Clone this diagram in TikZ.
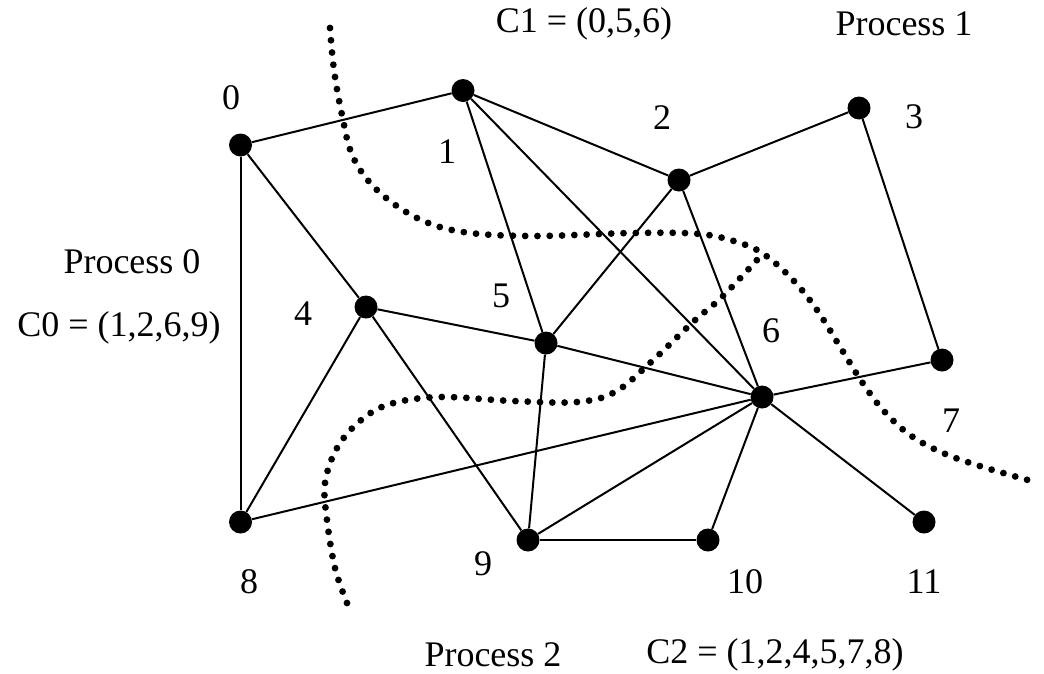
\documentclass[tikz,border=0pt]{standalone}
\usepackage{fontspec}
\setmainfont{Liberation Serif}
\begin{document}
\begin{tikzpicture}[x=1pt,y=-1pt,
  vtx/.style={circle,fill=black,draw=none,inner sep=0pt,minimum size=23pt},
  lbl/.style={inner sep=0pt,font=\fontsize{36}{40}\selectfont},
  edge/.style={line width=2pt},
  cut/.style={line width=6.8pt,line cap=round,dash pattern=on 0pt off 12.3pt}]
\useasboundingbox (0,0) rectangle (1044,673);
% vertices
\node[vtx] (v0) at (240.5,145) {};
\node[vtx] (v1) at (463,90.5) {};
\node[vtx] (v2) at (679,180) {};
\node[vtx] (v3) at (859,108) {};
\node[vtx] (v4) at (366,307) {};
\node[vtx] (v5) at (546,343) {};
\node[vtx] (v6) at (762,397) {};
\node[vtx] (v7) at (942,360) {};
\node[vtx] (v8) at (240.5,522) {};
\node[vtx] (v9) at (528,540) {};
\node[vtx] (v10) at (708,540) {};
\node[vtx] (v11) at (924,522) {};
% vertex labels
\node[lbl] (l0) at (231,98) {0};
\node[lbl] (l1) at (447,152) {1};
\node[lbl] (l2) at (662,118) {2};
\node[lbl] (l3) at (914,117) {3};
\node[lbl] (l4) at (303,314) {4};
\node[lbl] (l5) at (501,296) {5};
\node[lbl] (l6) at (771,331) {6};
\node[lbl] (l7) at (951,421) {7};
\node[lbl] (l8) at (249,582) {8};
\node[lbl] (l9) at (483,564) {9};
\node[lbl] (l10) at (745,582) {10};
\node[lbl] (l11) at (924,582) {11};
% texts
\node[lbl] (c1) at (584,24) {C1 = (0,5,6)};
\node[lbl] (p1) at (904,24) {Process 1};
\node[lbl] (p0) at (132,262) {Process 0};
\node[lbl] (c0) at (119,328) {C0 = (1,2,6,9)};
\node[lbl] (p2) at (493,655) {Process 2};
\node[lbl] (c2) at (775,655) {C2 = (1,2,4,5,7,8)};
% edges
\draw[edge] (v0) -- (v1);
\draw[edge] (v0) -- (v8);
\draw[edge] (v0) -- (v4);
\draw[edge] (v1) -- (v2);
\draw[edge] (v1) -- (v5);
\draw[edge] (v1) -- (v6);
\draw[edge] (v2) -- (v3);
\draw[edge] (v2) -- (v5);
\draw[edge] (v2) -- (v6);
\draw[edge] (v3) -- (v7);
\draw[edge] (v4) -- (v5);
\draw[edge] (v4) -- (v8);
\draw[edge] (v4) -- (v9);
\draw[edge] (v5) -- (v6);
\draw[edge] (v5) -- (v9);
\draw[edge] (v8) -- (v6);
\draw[edge] (v6) -- (v7);
\draw[edge] (v6) -- (v9);
\draw[edge] (v6) -- (v10);
\draw[edge] (v6) -- (v11);
\draw[edge] (v9) -- (v10);
% partition cuts
\draw[cut] plot[smooth,tension=0.6] coordinates {(330,28) (334,70) (342,115) (353,157) (377,190) (417,218) (463,232) (533,236) (633,233) (700,234) (740,243) (765,255) (793,280) (817,310) (842,350) (862,382) (883,410) (910,435) (943,453) (983,467) (1035,482)};
\draw[cut] plot[smooth,tension=0.6] coordinates {(347,603) (335,568) (327,520) (325,483) (337,448) (360,421) (390,404) (440,397) (513,401) (577,402) (615,392) (650,363) (693,322) (722,297) (757,260)};
\end{tikzpicture}
\end{document}
